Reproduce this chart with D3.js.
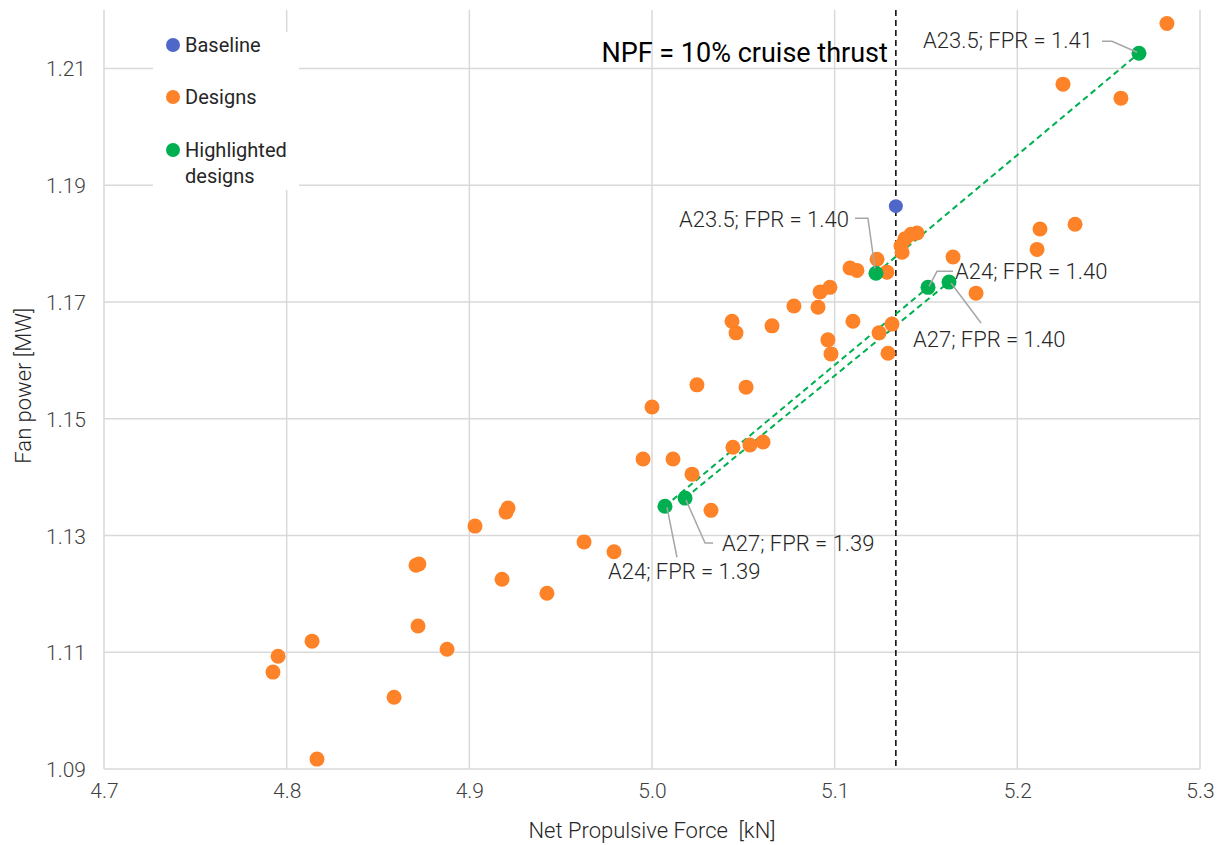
<!DOCTYPE html>
<html>
<head>
<meta charset="utf-8">
<script src="https://d3js.org/d3.v7.min.js"></script>
<style>
  body { margin: 0; background: #fff; }
  text { font-family: Roboto, "Liberation Sans", sans-serif; }
</style>
</head>
<body>
<svg id="chart" width="1224" height="845"></svg>
<script>
// values
var xTicks = [4.7, 4.8, 4.9, 5.0, 5.1, 5.2, 5.3];
var yTicks = [1.09, 1.11, 1.13, 1.15, 1.17, 1.19, 1.21];

var baselineX = [5.1335];
var baselineY = [1.1864];

var designX = [5.2819, 5.2250, 5.2567, 5.1451, 5.1418, 5.1385, 5.1363, 5.1369,
  5.2316, 5.2124, 5.2108, 5.1648, 5.1774, 5.1232, 5.1084, 5.1122, 5.1286,
  5.0920, 5.0974, 5.0777, 5.0909, 5.0438, 5.0460, 5.0657, 5.1100, 5.0963,
  5.0980, 5.1314, 5.1243, 5.1292, 5.0246, 5.0515, 5.0000, 4.9951, 5.0115,
  5.0219, 5.0443, 5.0536, 5.0608, 5.0323, 4.9201, 4.9212, 4.9031, 4.9628,
  4.9792, 4.8708, 4.8724, 4.9179, 4.9425, 4.8719, 4.8139, 4.8878, 4.7953,
  4.7925, 4.8588, 4.8166];
var designY = [1.2177, 1.2073, 1.2049, 1.1818, 1.1816, 1.1808, 1.1796, 1.1785,
  1.1833, 1.1825, 1.1790, 1.1777, 1.1715, 1.1773, 1.1758, 1.1754, 1.1751,
  1.1717, 1.1725, 1.1693, 1.1691, 1.1667, 1.1647, 1.1659, 1.1667, 1.1635,
  1.1611, 1.1662, 1.1647, 1.1612, 1.1558, 1.1554, 1.1520, 1.1431, 1.1431,
  1.1405, 1.1451, 1.1455, 1.1460, 1.1343, 1.1340, 1.1347, 1.1316, 1.1289,
  1.1272, 1.1249, 1.1251, 1.1225, 1.1201, 1.1145, 1.1119, 1.1105, 1.1093,
  1.1066, 1.1023, 1.0917];

var highName = ["A23.5", "A23.5", "A24", "A27", "A24", "A27"];
var highFPR = ["1.41", "1.40", "1.40", "1.40", "1.39", "1.39"];
var highX = [5.2666, 5.1226, 5.1511, 5.1626, 5.0071, 5.0181];
var highY = [1.2126, 1.1749, 1.1725, 1.1734, 1.1350, 1.1364];

// pairs of highlighted designs joined by a dashed line (index into high arrays)
var highLinks = [[1, 0], [4, 2], [5, 3]];

var npfLine = 5.1335;

var legendNames = ["Baseline", "Designs", "Highlighted designs"];

var colBlue = "#4f67c8";
var colOrange = "#fe8227";
var colGreen = "#00b050";

var svgWidth = 1224;
var svgHeight = 845;
var margin = { top: 10, bottom: 76, left: 104, right: 24 };

var svg = d3.select("#chart");

var x = d3.scaleLinear()
  .domain([4.7, 5.3])
  .range([margin.left, svgWidth - margin.right]);
var y = d3.scaleLinear()
  .domain([1.09, 1.22])
  .range([svgHeight - margin.bottom, margin.top]);

// grid
var grid = svg.append("g");
grid.selectAll(".vg").data(xTicks).enter().append("line")
  .attr("x1", function(d) { return x(d); })
  .attr("x2", function(d) { return x(d); })
  .attr("y1", y(1.22))
  .attr("y2", y(1.09))
  .style("stroke", "#d9d9d9")
  .style("stroke-width", "1.5px");
grid.selectAll(".hg").data(yTicks).enter().append("line")
  .attr("x1", x(4.7))
  .attr("x2", x(5.3))
  .attr("y1", function(d) { return y(d); })
  .attr("y2", function(d) { return y(d); })
  .style("stroke", "#d9d9d9")
  .style("stroke-width", "1.5px");

// tick labels
var xAxis = d3.axisBottom(x).tickValues(xTicks).tickSize(0).tickPadding(14)
  .tickFormat(d3.format(".1f"));
var gx = svg.append("g")
  .attr("transform", "translate(0," + y(1.09) + ")")
  .call(xAxis);
var yAxis = d3.axisLeft(y).tickValues(yTicks).tickSize(0).tickPadding(18)
  .tickFormat(d3.format(".2f"));
var gy = svg.append("g")
  .attr("transform", "translate(" + x(4.7) + ",0)")
  .call(yAxis);
[gx, gy].forEach(function(g) {
  g.select(".domain").remove();
  g.selectAll("text")
    .style("font-size", "21px")
    .style("font-weight", 300)
    .style("fill", "#404040")
    .style("font-family", "Roboto, sans-serif");
});
gy.selectAll("text").attr("dy", "0.36em");

// axis titles
svg.append("text")
  .attr("x", (x(4.7) + x(5.3)) / 2)
  .attr("y", 838)
  .attr("text-anchor", "middle")
  .style("font-size", "22px")
  .style("font-weight", 300)
  .style("fill", "#262626")
  .text("Net Propulsive Force\u00a0\u00a0[kN]");
svg.append("text")
  .attr("transform", "translate(31," + (y(1.15) - 33) + ") rotate(-90)")
  .attr("text-anchor", "middle")
  .style("font-size", "22px")
  .style("font-weight", 300)
  .style("fill", "#262626")
  .text("Fan power [MW]");

// legend box covers the grid
var leg = svg.append("g");
leg.append("rect")
  .attr("x", 153).attr("y", 32)
  .attr("width", 146).attr("height", 158)
  .style("fill", "#fff");
var legY = [45, 97, 150];
var legCol = [colBlue, colOrange, colGreen];
legendNames.forEach(function(name, i) {
  leg.append("circle")
    .attr("cx", 173).attr("cy", legY[i]).attr("r", 7)
    .style("fill", legCol[i]);
  var t = leg.append("text")
    .attr("x", 185).attr("y", legY[i] + 7)
    .style("font-size", "20px")
    .style("fill", "#262626");
  if (i == 2) {
    t.append("tspan").attr("x", 185).text("Highlighted");
    t.append("tspan").attr("x", 185).attr("dy", 26).text("designs");
  } else {
    t.text(name);
  }
});

// NPF = 10% cruise thrust
svg.append("line")
  .attr("x1", x(npfLine)).attr("x2", x(npfLine))
  .attr("y1", y(1.22)).attr("y2", y(1.09))
  .style("stroke", "#000")
  .style("stroke-width", "1.5px")
  .style("stroke-dasharray", "6,4");
svg.append("text")
  .attr("x", x(npfLine) - 8)
  .attr("y", 62)
  .attr("text-anchor", "end")
  .style("font-size", "27px")
  .style("fill", "#000")
  .text("NPF = 10% cruise thrust");

// dashed links between highlighted designs
highLinks.forEach(function(p) {
  svg.append("line")
    .attr("x1", x(highX[p[0]])).attr("y1", y(highY[p[0]]))
    .attr("x2", x(highX[p[1]])).attr("y2", y(highY[p[1]]))
    .style("stroke", colGreen)
    .style("stroke-width", "2px")
    .style("stroke-dasharray", "6,4");
});

// points
svg.append("g").selectAll("circle").data(designX).enter().append("circle")
  .attr("cx", function(d) { return x(d); })
  .attr("cy", function(d, i) { return y(designY[i]); })
  .attr("r", 7.5)
  .style("fill", colOrange);
svg.append("g").selectAll("circle").data(highX).enter().append("circle")
  .attr("cx", function(d) { return x(d); })
  .attr("cy", function(d, i) { return y(highY[i]); })
  .attr("r", 7.5)
  .style("fill", colGreen);
svg.append("g").selectAll("circle").data(baselineX).enter().append("circle")
  .attr("cx", function(d) { return x(d); })
  .attr("cy", function(d, i) { return y(baselineY[i]); })
  .attr("r", 7)
  .style("fill", colBlue);

// label placement: text end/start offset from point, leader elbow
var labelLayout = [
  { dx: -46, dy: -5, anchor: "end", leader: [[-2, -1], [-27, -12], [-37, -12]] },
  { dx: -27, dy: -46, anchor: "end", leader: [[-1, -5], [-8, -55], [-21, -55]] },
  { dx: 27, dy: -8, anchor: "start", leader: [[1, -1], [9, -16], [25, -16]] },
  { dx: -36, dy: 65, anchor: "start", leader: [[2, 1], [32, 41]] },
  { dx: -57, dy: 73, anchor: "start", leader: [[2, 1], [12, 51]] },
  { dx: 37, dy: 53, anchor: "start", leader: [[1, 2], [20, 45], [28, 45]] }
];

highX.forEach(function(hx, i) {
  var px = x(hx), py = y(highY[i]);
  var L = labelLayout[i];
  var pts = L.leader.map(function(o) { return [px + o[0], py + o[1]]; });
  svg.append("path")
    .attr("d", d3.line()(pts))
    .style("fill", "none")
    .style("stroke", "#a6a6a6")
    .style("stroke-width", "1.5px");
  svg.append("text")
    .attr("x", px + L.dx)
    .attr("y", py + L.dy)
    .attr("text-anchor", L.anchor)
    .style("font-size", "22px")
    .style("font-weight", 300)
    .style("fill", "#262626")
    .text(highName[i] + "; FPR = " + highFPR[i]);
});
</script>
</body>
</html>
